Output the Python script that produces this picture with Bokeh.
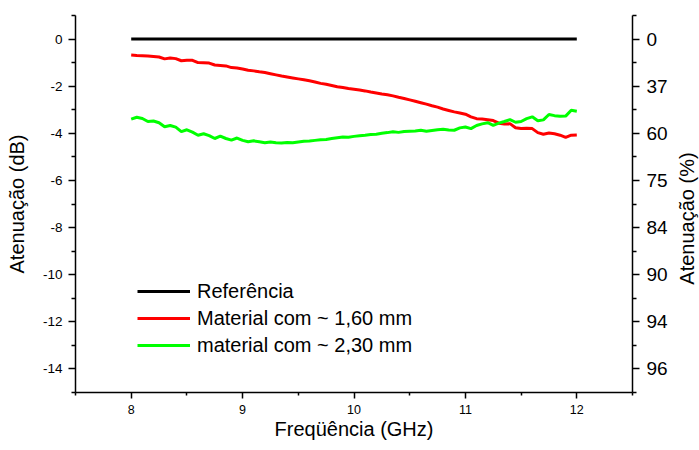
import math
from bokeh.plotting import figure
from bokeh.layouts import row
from bokeh.models import LinearAxis, FixedTicker, Range1d, Legend, LegendItem, Label
from bokeh.embed import file_html
from bokeh.resources import INLINE

# ---- data ----
freq = [8.00, 8.05, 8.10, 8.15, 8.20, 8.25, 8.30, 8.35, 8.40, 8.45,
        8.50, 8.55, 8.60, 8.65, 8.70, 8.75, 8.80, 8.85, 8.90, 8.95,
        9.00, 9.05, 9.10, 9.15, 9.20, 9.25, 9.30, 9.35, 9.40, 9.45,
        9.50, 9.55, 9.60, 9.65, 9.70, 9.75, 9.80, 9.85, 9.90, 9.95,
        10.00, 10.05, 10.10, 10.15, 10.20, 10.25, 10.30, 10.35, 10.40, 10.45,
        10.50, 10.55, 10.60, 10.65, 10.70, 10.75, 10.80, 10.85, 10.90, 10.95,
        11.00, 11.05, 11.10, 11.15, 11.20, 11.25, 11.30, 11.35, 11.40, 11.45,
        11.50, 11.55, 11.60, 11.65, 11.70, 11.75, 11.80, 11.85, 11.90, 11.95,
        12.00]

referencia = [0.0] * len(freq)

mat_160 = [-0.68, -0.70, -0.71, -0.72, -0.74, -0.76, -0.84, -0.80, -0.83, -0.92,
           -0.90, -0.90, -1.00, -1.01, -1.02, -1.10, -1.12, -1.14, -1.21, -1.23,
           -1.27, -1.32, -1.35, -1.39, -1.42, -1.47, -1.52, -1.57, -1.61, -1.65,
           -1.69, -1.73, -1.77, -1.82, -1.88, -1.92, -1.97, -2.02, -2.06, -2.10,
           -2.13, -2.16, -2.20, -2.25, -2.29, -2.33, -2.36, -2.41, -2.47, -2.52,
           -2.58, -2.64, -2.70, -2.76, -2.83, -2.89, -2.97, -3.03, -3.09, -3.14,
           -3.19, -3.30, -3.38, -3.39, -3.42, -3.46, -3.57, -3.60, -3.59, -3.76,
           -3.80, -3.79, -3.80, -3.97, -4.04, -3.99, -4.02, -4.08, -4.17, -4.08,
           -4.07]

mat_230 = [-3.40, -3.32, -3.37, -3.50, -3.48, -3.55, -3.72, -3.67, -3.74, -3.93,
           -3.85, -3.95, -4.08, -4.02, -4.10, -4.22, -4.12, -4.22, -4.29, -4.20,
           -4.30, -4.36, -4.32, -4.36, -4.40, -4.37, -4.40, -4.41, -4.39, -4.40,
           -4.37, -4.34, -4.33, -4.30, -4.27, -4.26, -4.22, -4.19, -4.16, -4.17,
           -4.13, -4.10, -4.08, -4.05, -4.04, -4.00, -3.97, -3.93, -3.96, -3.92,
           -3.91, -3.90, -3.87, -3.91, -3.88, -3.85, -3.83, -3.86, -3.87, -3.77,
           -3.73, -3.80, -3.67, -3.60, -3.55, -3.66, -3.57, -3.50, -3.42, -3.53,
           -3.50, -3.38, -3.30, -3.47, -3.43, -3.20, -3.25, -3.28, -3.27, -3.02,
           -3.06]

x_ticks = [8, 9, 10, 11, 12]
x_minor = [7.5, 8.5, 9.5, 10.5, 11.5, 12.5]
y_ticks = [0, -2, -4, -6, -8, -10, -12, -14]
y_tick_labels = ["0", "-2", "-4", "-6", "-8", "-10", "-12", "-14"]
y_minor = [1, -1, -3, -5, -7, -9, -11, -13, -15]
pct_labels = ["0", "37", "60", "75", "84", "90", "94", "96"]

x_title = "Freqüência (GHz)"
y_title_left = "Atenuação (dB)"
y_title_right = "Atenuação (%)"

series_labels = ["Referência", "Material com ~ 1,60 mm", "material com ~ 2,30 mm"]
series_colors = ["#000000", "#ff0000", "#00ff00"]

FONT = "Liberation Sans"

p = figure(width=672, height=450,
           x_range=Range1d(7.5, 12.5), y_range=Range1d(-15, 1),
           output_backend="svg", toolbar_location=None,
           min_border_left=75, min_border_right=40,
           min_border_top=15, min_border_bottom=58)

p.xgrid.visible = False
p.ygrid.visible = False
p.outline_line_color = None
p.background_fill_color = "white"

r0 = p.line(freq, referencia, line_color=series_colors[0], line_width=3)
r1 = p.line(freq, mat_160, line_color=series_colors[1], line_width=3)
r2 = p.line(freq, mat_230, line_color=series_colors[2], line_width=3)

def style_axis(ax, tick_size):
    ax.axis_line_color = "black"
    ax.axis_line_width = 1.5
    ax.major_tick_line_color = "black"
    ax.major_tick_line_width = 1.5
    ax.minor_tick_line_color = "black"
    ax.minor_tick_line_width = 1.5
    ax.major_tick_in = 0
    ax.major_tick_out = 7
    ax.minor_tick_in = 0
    ax.minor_tick_out = 4
    ax.major_label_text_color = "black"
    ax.major_label_text_font = FONT
    ax.major_label_text_font_size = tick_size
    ax.axis_label_text_color = "black"
    ax.axis_label_text_font = FONT
    ax.axis_label_text_font_size = "20px"
    ax.axis_label_text_font_style = "normal"

# bottom axis
xa = p.xaxis[0]
xa.ticker = FixedTicker(ticks=x_ticks, minor_ticks=x_minor)
xa.axis_label = x_title
style_axis(xa, "12.5px")
xa.major_tick_out = 6
xa.minor_tick_out = 3
xa.major_label_standoff = 6
xa.axis_label_standoff = 1

# left axis
ya = p.yaxis[0]
ya.ticker = FixedTicker(ticks=y_ticks, minor_ticks=y_minor)
ya.major_label_overrides = {float(t): l for t, l in zip(y_ticks, y_tick_labels)}
ya.axis_label = y_title_left
style_axis(ya, "13.5px")
ya.major_label_standoff = 6
ya.axis_label_standoff = 12

# right axis (percentage labels on same scale)
ra = LinearAxis(ticker=FixedTicker(ticks=y_ticks, minor_ticks=y_minor),
                major_label_overrides={float(t): l for t, l in zip(y_ticks, pct_labels)})
style_axis(ra, "19px")
ra.major_label_standoff = 7
p.add_layout(ra, "right")

legend = Legend(items=[LegendItem(label=series_labels[0], renderers=[r0]),
                       LegendItem(label=series_labels[1], renderers=[r1]),
                       LegendItem(label=series_labels[2], renderers=[r2])],
                location=(62, 34), orientation="vertical",
                padding=0, margin=0, spacing=1,
                label_height=26, glyph_height=26, glyph_width=53,
                label_standoff=7,
                border_line_alpha=0, background_fill_alpha=0,
                label_text_font=FONT, label_text_font_size="20px",
                label_text_color="black")
p.add_layout(legend)

# strip holding the right-hand axis title (reads bottom to top)
p2 = figure(width=27, height=450, x_range=Range1d(0, 1), y_range=Range1d(0, 1),
            output_backend="svg", toolbar_location=None,
            min_border_left=0, min_border_right=0,
            min_border_top=0, min_border_bottom=0)
p2.axis.visible = False
p2.grid.visible = False
p2.outline_line_color = None
p2.add_layout(Label(x=14, y=174, x_units="screen", y_units="screen",
                    text=y_title_right, angle=math.pi / 2,
                    text_font=FONT, text_font_size="20px", text_color="black",
                    text_align="center", text_baseline="middle"))

layout = row(p, p2)
open("out.html", "w").write(file_html(layout, INLINE))
